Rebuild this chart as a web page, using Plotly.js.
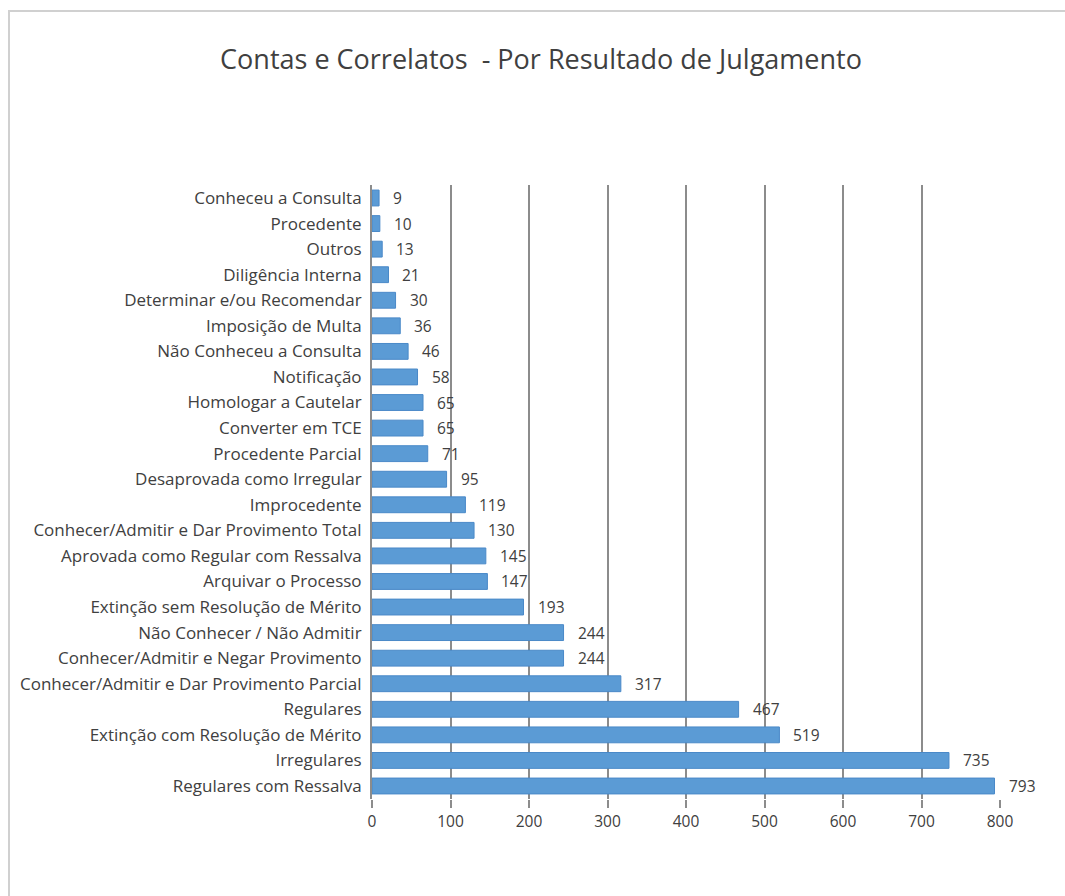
<!DOCTYPE html>
<html><head><meta charset="utf-8">
<script src="https://cdn.plot.ly/plotly-3.0.1.min.js"></script>
<style>
html,body{margin:0;padding:0;background:#fff;overflow:hidden;}
#frame{position:absolute;left:8px;top:10px;width:1100px;height:900px;border-top:2px solid #d0d0d0;border-left:2px solid #d0d0d0;}
#chart{position:absolute;left:0;top:0;width:1065px;height:896px;}
</style></head>
<body>
<div id="frame"></div>
<div id="chart"></div>
<script>
const categories = [
  "Regulares com Ressalva","Irregulares","Extinção com Resolução de Mérito","Regulares",
  "Conhecer/Admitir e Dar Provimento Parcial","Conhecer/Admitir e Negar Provimento",
  "Não Conhecer / Não Admitir","Extinção sem Resolução de Mérito","Arquivar o Processo",
  "Aprovada como Regular com Ressalva","Conhecer/Admitir e Dar Provimento Total","Improcedente",
  "Desaprovada como Irregular","Procedente Parcial","Converter em TCE","Homologar a Cautelar",
  "Notificação","Não Conheceu a Consulta","Imposição de Multa","Determinar e/ou Recomendar",
  "Diligência Interna","Outros","Procedente","Conheceu a Consulta"
];
const values = [793,735,519,467,317,244,244,193,147,145,130,119,95,71,65,65,58,46,36,30,21,13,10,9];
const xTicks = [0,100,200,300,400,500,600,700,800];

const FONT = 'Open Sans, sans-serif';
const trace = {
  type:'bar', orientation:'h',
  y: categories, x: values,
  marker:{color:'#5b9bd5', line:{color:'#4a89c8', width:1}},
  width:0.62,
  hoverinfo:'x+y'
};
const labelAnns = values.map((v,i)=>({
  x:v, y:categories[i], xref:'x', yref:'y', text:String(v),
  showarrow:false, xanchor:'left', yanchor:'middle', xshift:12, yshift:0,
  font:{family:FONT, size:15.5, color:'#404040'}
}));
const layout = {
  width:1065, height:896,
  paper_bgcolor:'rgba(0,0,0,0)', plot_bgcolor:'rgba(0,0,0,0)',
  margin:{l:372, r:65, t:185, b:97},
  title:{text:'Contas e Correlatos  - Por Resultado de Julgamento',
    font:{family:FONT, size:27, color:'#404040'},
    x:0.508, xanchor:'center', y:0.933, yanchor:'middle'},
  showlegend:false,
  annotations: labelAnns,
  xaxis:{range:[0,800], tickvals:xTicks, ticktext:xTicks.map(String),
    showgrid:true, gridcolor:'#8c8c8c', gridwidth:2, zeroline:false,
    showline:false, ticks:'outside', ticklen:8, tickcolor:'#8c8c8c', tickwidth:2,
    tickfont:{family:FONT, size:15.5, color:'#404040'}},
  yaxis:{type:'category', categoryorder:'array', categoryarray:categories,
    showgrid:false, showline:true, linecolor:'#8c8c8c', linewidth:2,
    ticks:'', ticklabelstandoff:5,
    tickfont:{family:FONT, size:17, color:'#404040'}},
  bargap:0.38
};
Plotly.newPlot('chart',[trace],layout,{displayModeBar:false,staticPlot:true});
</script>
</body></html>
